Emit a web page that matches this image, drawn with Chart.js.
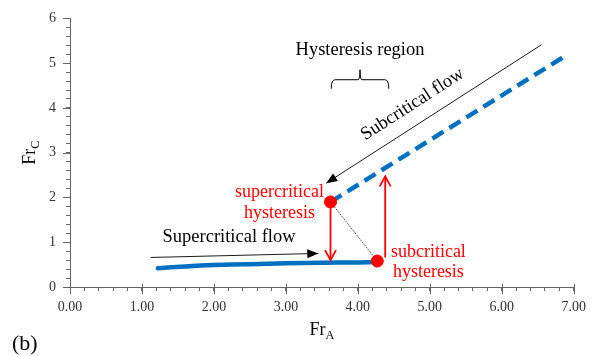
<!DOCTYPE html>
<html>
<head>
<meta charset="utf-8">
<title>Fr_C vs Fr_A</title>
<script src="https://cdn.jsdelivr.net/npm/chart.js@4.4.1/dist/chart.umd.min.js"></script>
<style>
  html, body { margin: 0; padding: 0; background: #fff; }
  #wrap { width: 594px; height: 356px; position: relative; }
</style>
</head>
<body>
<div id="wrap"><canvas id="chart-froude"></canvas></div>
<script>
// supercritical branch (solid)
var superFrA = [1.22, 1.60, 2.00, 2.50, 3.00, 3.50, 4.00, 4.27];
var superFrC = [0.42, 0.46, 0.49, 0.51, 0.53, 0.54, 0.55, 0.56];

// subcritical branch (dashed)
var subFrA = [3.62, 6.86];
var subFrC = [1.90, 5.14];

// hysteresis points: supercritical, subcritical
var hystFrA = [3.62, 4.27];
var hystFrC = [1.90, 0.58];

// jumps and flow direction arrows: [x0, y0, x1, y1]
var jumpDown = [3.62, 1.77, 3.62, 0.60];
var jumpUp = [4.38, 0.66, 4.38, 2.47];
var subFlowArrow = [6.55, 5.41, 3.56, 2.32];
var superFlowArrow = [1.12, 0.66, 3.45, 0.75];

// hysteresis region bracket extent
var regionFrA = [3.63, 4.43];

var xMajor = [0, 1, 2, 3, 4, 5, 6, 7];
var yMajor = [0, 1, 2, 3, 4, 5, 6];

var BLUE = '#0070C0';
var RED = '#FF0000';
var AXIS = '#666';
var SERIF = '"Liberation Serif", "Times New Roman", serif';

function pts(xs, ys) {
    return xs.map(function(x, i) { return { x: x, y: ys[i] }; });
}
function seg(a) {
    return [{ x: a[0], y: a[1] }, { x: a[2], y: a[3] }];
}
function minorTicks(major) {
    var out = [];
    for (var i = 0; i < major.length - 1; i++) {
        for (var k = 0; k < 5; k++) out.push({ value: Math.round((major[i] + k * 0.2) * 10) / 10 });
    }
    out.push({ value: major[major.length - 1] });
    return out;
}
function isMajor(v) {
    return Math.abs(v - Math.round(v)) < 1e-6;
}

// arrow heads on the last segment of flagged datasets
var arrowHeads = {
    id: 'arrowHeads',
    afterDatasetsDraw: function(chart) {
        var ctx = chart.ctx;
        chart.data.datasets.forEach(function(ds, i) {
            if (!ds.arrowHead) return;
            var el = chart.getDatasetMeta(i).data;
            var a = el[el.length - 2], b = el[el.length - 1];
            var ang = Math.atan2(b.y - a.y, b.x - a.x);
            ctx.save();
            ctx.translate(b.x, b.y);
            ctx.rotate(ang);
            ctx.beginPath();
            if (ds.arrowHead === 'filled') {
                ctx.moveTo(0, 0);
                ctx.lineTo(-11, -4.5);
                ctx.lineTo(-11, 4.5);
                ctx.closePath();
                ctx.fillStyle = ds.borderColor;
                ctx.fill();
            } else {
                ctx.moveTo(-10, -5.5);
                ctx.lineTo(0, 0);
                ctx.lineTo(-10, 5.5);
                ctx.strokeStyle = ds.borderColor;
                ctx.lineWidth = ds.borderWidth;
                ctx.stroke();
            }
            ctx.restore();
        });
    }
};

// longer tick marks at the whole numbers
var majorTicks = {
    id: 'majorTicks',
    afterDraw: function(chart) {
        var ctx = chart.ctx, xs = chart.scales.x, ys = chart.scales.y, area = chart.chartArea;
        ctx.save();
        ctx.strokeStyle = AXIS;
        ctx.lineWidth = 1;
        ctx.beginPath();
        xMajor.forEach(function(v) {
            var x = Math.round(xs.getPixelForValue(v)) + 0.5;
            ctx.moveTo(x, area.bottom - 3);
            ctx.lineTo(x, area.bottom + 7);
        });
        yMajor.forEach(function(v) {
            var y = Math.round(ys.getPixelForValue(v)) + 0.5;
            ctx.moveTo(area.left - 7, y);
            ctx.lineTo(area.left, y);
        });
        ctx.stroke();
        ctx.restore();
    }
};

// labels, bracket and axis titles
var labels = {
    id: 'labels',
    afterDraw: function(chart) {
        var ctx = chart.ctx, xs = chart.scales.x, ys = chart.scales.y, area = chart.chartArea;
        var X = function(v) { return xs.getPixelForValue(v); };
        var Y = function(v) { return ys.getPixelForValue(v); };

        function text(str, x, y, color, size, align) {
            ctx.font = size + 'px ' + SERIF;
            ctx.fillStyle = color;
            ctx.textAlign = align || 'center';
            ctx.textBaseline = 'middle';
            ctx.fillText(str, x, y);
        }
        function subTitle(main, sub, size) {
            ctx.font = size + 'px ' + SERIF;
            var w1 = ctx.measureText(main).width;
            ctx.font = (size * 0.68) + 'px ' + SERIF;
            var w2 = ctx.measureText(sub).width;
            var x0 = -(w1 + w2) / 2;
            ctx.fillStyle = '#000';
            ctx.textAlign = 'left';
            ctx.textBaseline = 'alphabetic';
            ctx.font = size + 'px ' + SERIF;
            ctx.fillText(main, x0, 0);
            ctx.font = (size * 0.68) + 'px ' + SERIF;
            ctx.fillText(sub, x0 + w1, 4);
        }

        ctx.save();

        // bracket over the hysteresis region
        var bl = X(regionFrA[0]), br = X(regionFrA[1]), bm = (bl + br) / 2, by = Y(4.63);
        ctx.strokeStyle = '#000';
        ctx.lineWidth = 1;
        ctx.beginPath();
        ctx.moveTo(bl, by + 9);
        ctx.quadraticCurveTo(bl, by, bl + 4, by);
        ctx.lineTo(bm - 2, by);
        ctx.quadraticCurveTo(bm, by, bm, by - 10);
        ctx.quadraticCurveTo(bm, by, bm + 2, by);
        ctx.lineTo(br - 4, by);
        ctx.quadraticCurveTo(br, by, br, by + 9);
        ctx.stroke();
        text('Hysteresis region', bm, Y(5.29), '#000', 18.5);

        // text along the subcritical flow arrow
        var p0x = X(subFlowArrow[0]), p0y = Y(subFlowArrow[1]);
        var p1x = X(subFlowArrow[2]), p1y = Y(subFlowArrow[3]);
        var ang = Math.atan2(p0y - p1y, p0x - p1x);
        ctx.save();
        ctx.translate(X(4.76), Y(4.08));
        ctx.rotate(ang);
        text('Subcritical flow', 0, 0, '#000', 18.5);
        ctx.restore();

        text('Supercritical flow', X(2.21), Y(1.12), '#000', 18.5);

        text('supercritical', X(2.91), Y(2.12), RED, 18);
        text('hysteresis', X(2.91), Y(1.65), RED, 18);
        text('subcritical', X(4.98), Y(0.77), RED, 18);
        text('hysteresis', X(4.98), Y(0.32), RED, 18);

        // axis titles with subscripts
        ctx.save();
        ctx.translate((area.left + area.right) / 2, 335);
        subTitle('Fr', 'A', 18);
        ctx.restore();

        ctx.save();
        ctx.translate(35, (area.top + area.bottom) / 2);
        ctx.rotate(-Math.PI / 2);
        subTitle('Fr', 'C', 18);
        ctx.restore();

        text('(b)', 12, 344, '#000', 22, 'left');
        ctx.restore();
    }
};

var ctx = document.getElementById('chart-froude').getContext('2d');

new Chart(ctx, {
    type: 'scatter',
    data: {
        datasets: [
            {
                data: pts(hystFrA, hystFrC),
                backgroundColor: RED,
                borderColor: RED,
                pointRadius: 6,
                showLine: false
            },
            {
                data: pts(superFrA, superFrC),
                borderColor: BLUE,
                borderWidth: 4.5,
                pointRadius: 0,
                showLine: true,
                tension: 0.3,
                borderCapStyle: 'round'
            },
            {
                data: pts(subFrA, subFrC),
                borderColor: BLUE,
                borderWidth: 4.5,
                borderDash: [13, 7],
                pointRadius: 0,
                showLine: true
            },
            {
                data: pts(hystFrA, hystFrC),
                borderColor: '#333',
                borderWidth: 0.8,
                borderDash: [2, 1],
                pointRadius: 0,
                showLine: true
            },
            {
                data: seg(jumpDown),
                borderColor: RED,
                borderWidth: 1.8,
                pointRadius: 0,
                showLine: true,
                arrowHead: 'open'
            },
            {
                data: seg(jumpUp),
                borderColor: RED,
                borderWidth: 1.8,
                pointRadius: 0,
                showLine: true,
                arrowHead: 'open'
            },
            {
                data: seg(subFlowArrow),
                borderColor: '#000',
                borderWidth: 0.9,
                pointRadius: 0,
                showLine: true,
                arrowHead: 'filled'
            },
            {
                data: seg(superFlowArrow),
                borderColor: '#000',
                borderWidth: 0.9,
                pointRadius: 0,
                showLine: true,
                arrowHead: 'filled'
            }
        ]
    },
    options: {
        responsive: true,
        maintainAspectRatio: false,
        animation: false,
        layout: { padding: { left: 0, top: 15, right: 14, bottom: 0 } },
        plugins: {
            legend: { display: false },
            tooltip: { enabled: false }
        },
        scales: {
            x: {
                type: 'linear',
                min: 0,
                max: 7,
                afterBuildTicks: function(s) { s.ticks = minorTicks(xMajor); },
                afterFit: function(s) { s.height = 69; },
                grid: { drawOnChartArea: false, drawTicks: true, tickLength: 4, color: AXIS },
                border: { color: AXIS, width: 1 },
                ticks: {
                    autoSkip: false,
                    maxRotation: 0,
                    padding: 8,
                    color: '#333',
                    font: { family: SERIF, size: 14 },
                    callback: function(v) { return isMajor(v) ? v.toFixed(2) : ''; }
                }
            },
            y: {
                type: 'linear',
                min: 0,
                max: 6,
                afterBuildTicks: function(s) { s.ticks = minorTicks(yMajor); },
                afterFit: function(s) { s.width = 70; },
                grid: { drawOnChartArea: false, drawTicks: true, tickLength: 4, color: AXIS },
                border: { color: AXIS, width: 1 },
                ticks: {
                    autoSkip: false,
                    padding: 10,
                    color: '#333',
                    font: { family: SERIF, size: 14 },
                    callback: function(v) { return isMajor(v) ? String(Math.round(v)) : ''; }
                }
            }
        }
    },
    plugins: [arrowHeads, majorTicks, labels]
});
</script>
</body>
</html>
